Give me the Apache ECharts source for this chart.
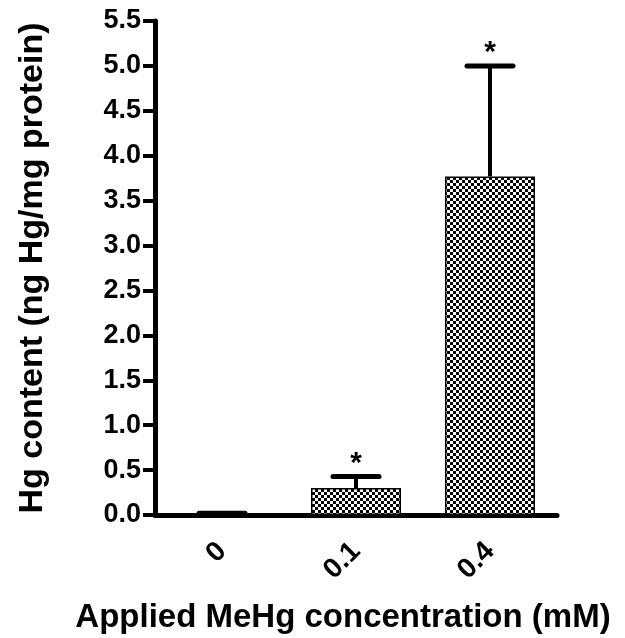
<!DOCTYPE html>
<html>
<head>
<meta charset="utf-8">
<script src="https://cdn.jsdelivr.net/npm/echarts@6/dist/echarts.min.js"></script>
<style>
html,body{margin:0;padding:0;background:#fff;}
#main{width:625px;height:638px;}
</style>
</head>
<body>
<div id="main"></div>
<script>
// data
var categories = ['0', '0.1', '0.4'];
var meanValues = [0.01, 0.30, 3.77];
var errValues = [0.01, 0.13, 1.23];
var sigMarks = ['', '*', '*'];
var yTicks = ['0.0','0.5','1.0','1.5','2.0','2.5','3.0','3.5','4.0','4.5','5.0','5.5'];

// checkerboard fill
function makeChecker() {
    var c = document.createElement('canvas');
    c.width = 6;
    c.height = 6;
    var ctx = c.getContext('2d');
    ctx.fillStyle = '#fff';
    ctx.fillRect(0, 0, 6, 6);
    ctx.fillStyle = '#000';
    ctx.fillRect(0, 0, 3, 3);
    ctx.fillRect(3, 3, 3, 3);
    return c;
}

var errData = [];
for (var i = 0; i < categories.length; i++) {
    errData.push([i, meanValues[i], meanValues[i] + errValues[i], sigMarks[i]]);
}

var myChart = echarts.init(document.getElementById('main'));
var font = 'Liberation Sans, Arial, sans-serif';

var option = {
    animation: false,
    grid: {left: 155, top: 21, right: 68, bottom: 123, containLabel: false, outerBoundsMode: 'none'},
    xAxis: {
        type: 'category',
        data: categories,
        name: 'Applied MeHg concentration (mM)',
        nameLocation: 'middle',
        nameGap: 86,
        nameTextStyle: {fontFamily: font, fontWeight: 'bold', fontSize: 33, color: '#000', padding: [0, 26, 0, 0]},
        axisLine: {lineStyle: {color: '#000', width: 5}},
        axisTick: {alignWithLabel: true, length: 13, lineStyle: {color: '#000', width: 4}},
        axisLabel: {rotate: 45, margin: 32, fontFamily: font, fontWeight: 'bold', fontSize: 28, color: '#000'}
    },
    yAxis: {
        type: 'value',
        min: 0,
        max: 5.5,
        interval: 0.5,
        name: 'Hg content (ng Hg/mg protein)',
        nameLocation: 'middle',
        nameGap: 85,
        nameTextStyle: {fontFamily: font, fontWeight: 'bold', fontSize: 34, color: '#000', padding: [0, 0, 20, 0]},
        axisLine: {show: true, lineStyle: {color: '#000', width: 5}},
        axisTick: {show: true, length: 12, lineStyle: {color: '#000', width: 4}},
        splitLine: {show: false},
        axisLabel: {
            margin: 14, fontFamily: font, fontWeight: 'bold', fontSize: 27, color: '#000',
            formatter: function (v) { return yTicks[Math.round(v / 0.5)]; }
        }
    },
    series: [
        {
            type: 'bar',
            data: meanValues,
            barWidth: 90,
            itemStyle: {
                color: {image: makeChecker(), repeat: 'repeat'},
                borderColor: '#000',
                borderWidth: 1.5
            }
        },
        {
            type: 'custom',
            data: errData,
            z: 5,
            renderItem: function (params, api) {
                var x = api.value(0);
                var lo = api.coord([x, api.value(1)]);
                var hi = api.coord([x, api.value(2)]);
                var half = 23;
                var mark = sigMarks[params.dataIndex];
                var children = [
                    {type: 'line', shape: {x1: lo[0], y1: lo[1], x2: hi[0], y2: hi[1]},
                        style: {stroke: '#000', lineWidth: 4}},
                    {type: 'line', shape: {x1: hi[0] - half, y1: hi[1], x2: hi[0] + half, y2: hi[1]},
                        style: {stroke: '#000', lineWidth: 5, lineCap: 'round'}}
                ];
                if (mark) {
                    children.push({type: 'text', style: {
                        text: mark, x: hi[0], y: hi[1] + 2,
                        align: 'center', verticalAlign: 'bottom',
                        font: 'bold 30px ' + font, fill: '#000'
                    }});
                }
                return {type: 'group', children: children};
            }
        }
    ]
};
myChart.setOption(option);
</script>
</body>
</html>
